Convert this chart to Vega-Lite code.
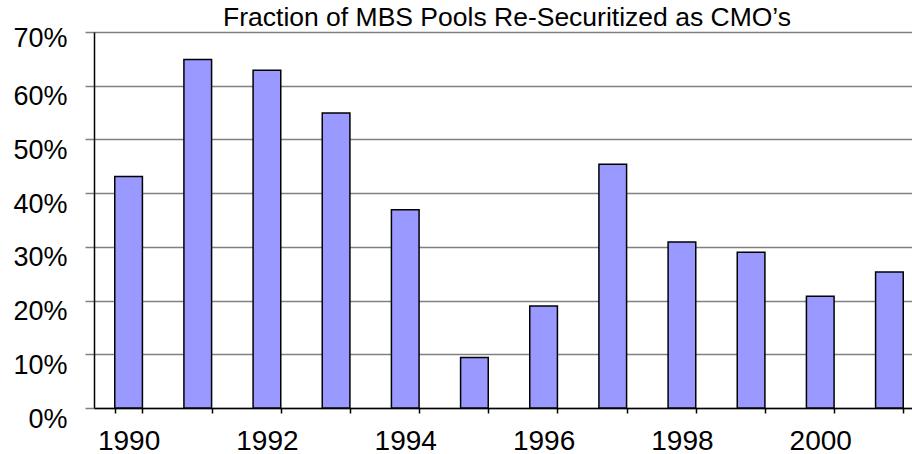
{
  "$schema": "https://vega.github.io/schema/vega-lite/v6.json",
  "width": 818,
  "height": 376,
  "autosize": {"type": "none"},
  "padding": {"left": 94, "top": 32, "right": 0, "bottom": 46},
  "background": "white",
  "title": {
    "text": "Fraction of MBS Pools Re-Securitized as CMO’s",
    "font": "Liberation Sans",
    "fontSize": 26.5,
    "fontWeight": "normal",
    "color": "black",
    "offset": 2,
    "anchor": "middle",
    "dx": 4,
    "dy": 9
  },
  "data": {
    "values": [
      {"year": 1990, "fraction": 0.431},
      {"year": 1991, "fraction": 0.649},
      {"year": 1992, "fraction": 0.629},
      {"year": 1993, "fraction": 0.549},
      {"year": 1994, "fraction": 0.369},
      {"year": 1995, "fraction": 0.094},
      {"year": 1996, "fraction": 0.190},
      {"year": 1997, "fraction": 0.454},
      {"year": 1998, "fraction": 0.309},
      {"year": 1999, "fraction": 0.290},
      {"year": 2000, "fraction": 0.208},
      {"year": 2001, "fraction": 0.253}
    ]
  },
  "mark": {"type": "bar", "color": "#9999FF", "stroke": "black", "strokeWidth": 1.5},
  "encoding": {
    "x": {
      "field": "year",
      "type": "ordinal",
      "scale": {"range": [0, 830], "paddingInner": 0.6, "paddingOuter": 0.3},
      "axis": {
        "title": null,
        "labelAngle": 0,
        "tickBand": "extent",
        "tickSize": 5,
        "tickColor": "black",
        "tickWidth": 1.5,
        "domainColor": "black",
        "domainWidth": 1.5,
        "grid": false,
        "labelFont": "Liberation Sans",
        "labelFontSize": 28,
        "labelColor": "black",
        "labelPadding": 14,
        "labelExpr": "datum.value % 2 == 0 ? datum.value : ''"
      }
    },
    "y": {
      "field": "fraction",
      "type": "quantitative",
      "scale": {"domain": [0, 0.7], "nice": false},
      "axis": {
        "title": null,
        "values": [0, 0.1, 0.2, 0.3, 0.4, 0.5, 0.6, 0.7],
        "format": ".0%",
        "grid": true,
        "gridColor": "#808080",
        "gridWidth": 1.5,
        "tickColor": "#808080",
        "tickSize": 9,
        "tickWidth": 1.5,
        "domainColor": "black",
        "domainWidth": 1.5,
        "labelFont": "Liberation Sans",
        "labelFontSize": 27,
        "labelColor": "black",
        "labelPadding": 18,
        "labelBaseline": "top",
        "labelOffset": {"condition": {"test": "datum.value >= 0.7", "value": -7}, "value": -2}
      }
    }
  },
  "config": {"view": {"stroke": null}}
}
